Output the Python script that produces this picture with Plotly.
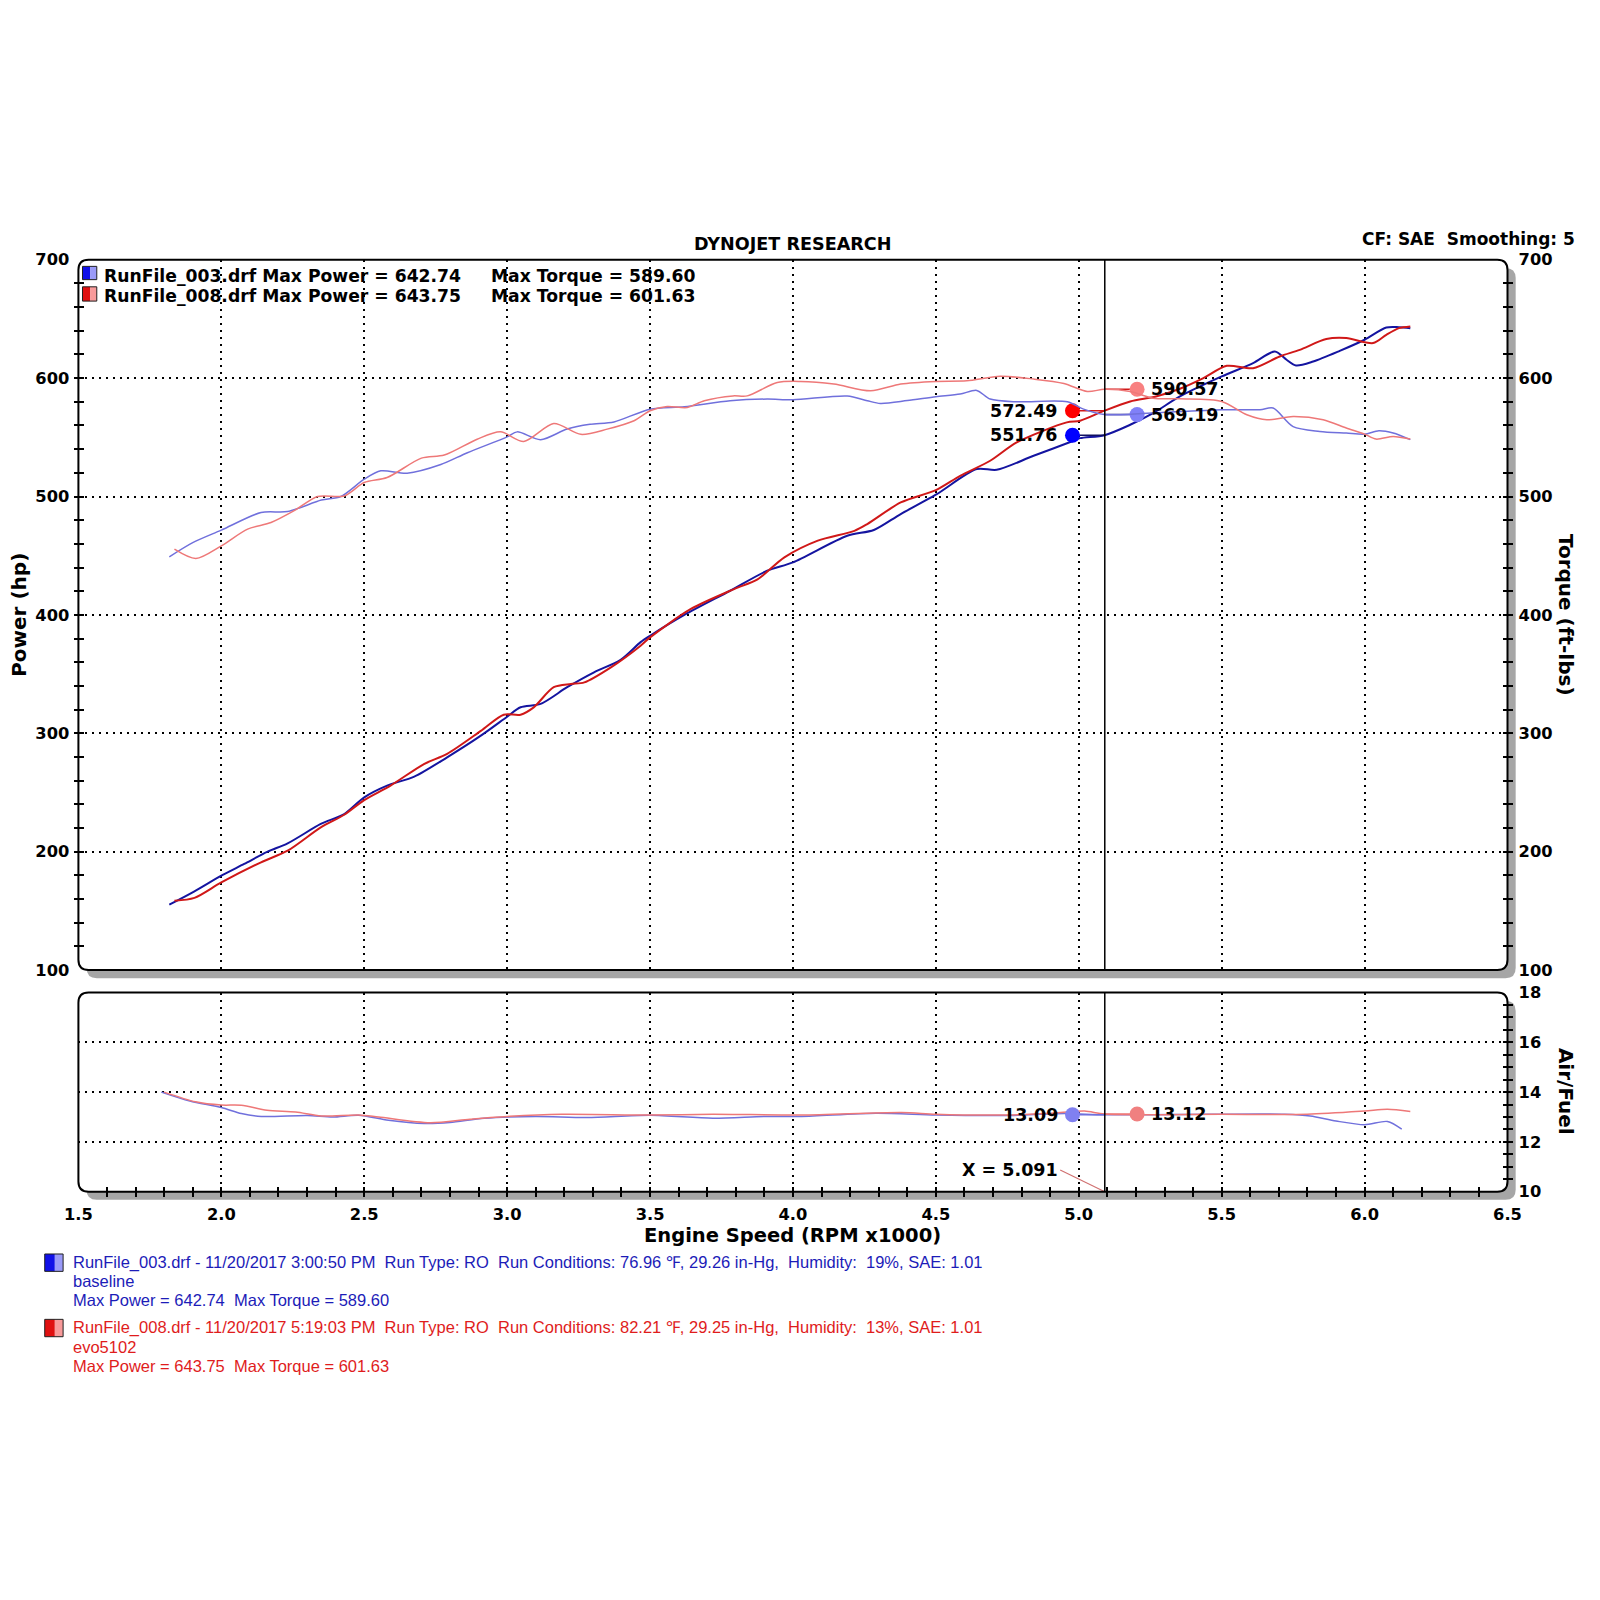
import plotly.graph_objects as go

# ---------------- data ----------------
rpm_blue_power = [1.818, 1.906, 2.0, 2.08, 2.162, 2.232, 2.348, 2.43, 2.5, 2.58, 2.675, 2.79, 2.908, 3.0, 3.047,
                  3.117, 3.21, 3.304, 3.397, 3.467, 3.5, 3.62, 3.78, 3.91, 4.0, 4.19, 4.283, 4.377, 4.5, 4.643,
                  4.713, 4.842, 4.982, 5.005, 5.09, 5.18, 5.26, 5.354, 5.5, 5.61, 5.686, 5.727, 5.76, 5.82,
                  5.913, 6.0, 6.076, 6.12, 6.16]
hp_blue = [155.2, 166.5, 179.7, 189.6, 200.0, 207.0, 223.4, 231.8, 245.9, 255.8, 263.4, 279.7, 298.0, 314.0, 322.0,
           324.8, 338.9, 351.5, 362.0, 377.0, 382.4, 400.0, 420.4, 437.3, 444.4, 466.9, 471.7, 485.2, 501.5, 523.2,
           522.6, 534.4, 547.1, 549.3, 551.8, 560.6, 570.4, 584.5, 601.4, 612.7, 622.5, 615.5, 610.7, 614.0,
           623.0, 632.4, 642.7, 643.0, 642.2]

rpm_red_power = [1.836, 1.906, 2.0, 2.139, 2.232, 2.348, 2.43, 2.5, 2.592, 2.709, 2.79, 2.908, 2.988, 3.047, 3.093,
                 3.163, 3.223, 3.27, 3.363, 3.467, 3.5, 3.643, 3.794, 3.876, 3.97, 4.087, 4.215, 4.26, 4.377, 4.5,
                 4.585, 4.69, 4.783, 4.958, 5.005, 5.09, 5.18, 5.27, 5.354, 5.436, 5.518, 5.61, 5.703, 5.773,
                 5.866, 5.936, 6.03, 6.076, 6.12, 6.16]
hp_red = [158.6, 161.0, 174.0, 191.0, 200.8, 220.5, 231.2, 243.6, 255.8, 274.0, 282.6, 302.0, 315.7, 315.7, 321.9,
          338.9, 341.6, 343.0, 355.7, 374.0, 381.0, 405.0, 421.8, 430.0, 448.6, 462.7, 471.0, 476.7, 495.0, 505.4,
          517.5, 530.2, 545.7, 562.6, 564.0, 572.5, 580.3, 584.5, 591.0, 600.0, 610.4, 608.4, 618.3, 623.9,
          633.0, 633.8, 629.6, 636.6, 642.2, 643.7]

rpm_blue_torque = [1.818, 1.9, 2.0, 2.139, 2.232, 2.35, 2.418, 2.5, 2.558, 2.65, 2.768, 2.861, 3.0, 3.035, 3.117,
                   3.21, 3.29, 3.374, 3.5, 3.62, 3.78, 3.91, 4.0, 4.19, 4.26, 4.306, 4.4, 4.5, 4.585, 4.643,
                   4.69, 4.783, 4.96, 5.017, 5.09, 5.24, 5.5, 5.634, 5.68, 5.75, 5.843, 5.936, 6.0, 6.05, 6.1, 6.16]
tq_blue = [449.0, 461.0, 471.6, 486.5, 487.3, 497.0, 500.0, 514.6, 521.7, 519.7, 527.0, 537.0, 550.4, 554.6, 548.0,
           557.0, 561.0, 563.0, 573.8, 575.8, 580.9, 582.3, 581.7, 584.8, 580.9, 578.6, 581.0, 584.2, 586.5, 589.6,
           582.3, 580.0, 580.0, 573.8, 569.2, 570.4, 573.3, 573.3, 574.7, 559.0, 555.0, 553.6, 552.7, 555.5, 553.6, 548.0]

rpm_red_torque = [1.836, 1.911, 2.0, 2.092, 2.174, 2.255, 2.337, 2.43, 2.5, 2.58, 2.7, 2.78, 2.895, 2.977, 3.058,
                  3.163, 3.258, 3.35, 3.444, 3.5, 3.56, 3.63, 3.69, 3.79, 3.84, 3.945, 4.027, 4.143, 4.272, 4.377,
                  4.5, 4.608, 4.725, 4.842, 4.948, 5.03, 5.09, 5.18, 5.26, 5.354, 5.5, 5.588, 5.658, 5.75, 5.855,
                  5.936, 6.0, 6.04, 6.1, 6.16]
tq_red = [455.5, 447.6, 458.3, 472.4, 478.0, 488.0, 500.0, 500.5, 511.8, 516.0, 532.4, 535.0, 548.4, 554.6, 546.4,
          561.6, 552.5, 556.9, 564.0, 572.4, 576.0, 575.2, 580.9, 585.0, 585.0, 596.3, 597.2, 595.0, 589.3, 595.0,
          597.2, 597.7, 601.6, 599.2, 595.5, 588.7, 590.6, 588.7, 583.0, 582.5, 580.3, 569.0, 564.8, 567.6, 564.8,
          557.8, 552.7, 548.5, 550.7, 548.5]

rpm_blue_afr = [1.79, 1.89, 2.0, 2.07, 2.14, 2.3, 2.39, 2.48, 2.585, 2.71, 2.8, 2.92, 3.1, 3.28, 3.5, 3.72, 3.9,
                4.03, 4.29, 4.5, 4.74, 4.95, 5.091, 5.45, 5.72, 5.81, 5.9, 6.0, 6.08, 6.13]
afr_blue = [14.0, 13.64, 13.38, 13.14, 13.02, 13.06, 13.0, 13.07, 12.87, 12.74, 12.78, 12.95, 13.02, 12.98, 13.07,
            12.95, 13.02, 13.02, 13.15, 13.08, 13.06, 13.14, 13.09, 13.11, 13.11, 13.04, 12.84, 12.69, 12.82, 12.51]

rpm_red_afr = [1.80, 1.91, 2.0, 2.07, 2.16, 2.26, 2.35, 2.48, 2.55, 2.73, 2.87, 3.01, 3.19, 3.5, 3.72, 4.03, 4.38,
               4.5, 4.74, 4.92, 5.02, 5.091, 5.5, 5.8, 6.0, 6.08, 6.16]
afr_red = [14.0, 13.61, 13.48, 13.47, 13.27, 13.2, 13.04, 13.08, 13.0, 12.77, 12.91, 13.03, 13.11, 13.08, 13.11,
           13.08, 13.18, 13.11, 13.08, 13.16, 13.24, 13.12, 13.11, 13.11, 13.24, 13.31, 13.22]

cursor_rpm = 5.091
cursor_blue_power = 551.76
cursor_red_power = 572.49
cursor_blue_torque = 569.19
cursor_red_torque = 590.57
cursor_blue_afr = 13.09
cursor_red_afr = 13.12

title_text = "DYNOJET RESEARCH"
cf_text = "CF: SAE\u00a0\u00a0Smoothing: 5"
legend_top = [("RunFile_003.drf Max Power = 642.74", "Max Torque = 589.60"),
              ("RunFile_008.drf Max Power = 643.75", "Max Torque = 601.63")]
legend_bottom_blue = ["RunFile_003.drf - 11/20/2017 3:00:50 PM\u00a0\u00a0Run Type: RO\u00a0\u00a0Run Conditions: 76.96 \u2109, 29.26 in-Hg,\u00a0\u00a0Humidity:\u00a0\u00a019%, SAE: 1.01",
                      "baseline",
                      "Max Power = 642.74\u00a0\u00a0Max Torque = 589.60"]
legend_bottom_red = ["RunFile_008.drf - 11/20/2017 5:19:03 PM\u00a0\u00a0Run Type: RO\u00a0\u00a0Run Conditions: 82.21 \u2109, 29.25 in-Hg,\u00a0\u00a0Humidity:\u00a0\u00a013%, SAE: 1.01",
                     "evo5102",
                     "Max Power = 643.75\u00a0\u00a0Max Torque = 601.63"]

# ---------------- styling ----------------
W = H = 1600
BLUE_P = "#1414A0"
RED_P = "#D01818"
BLUE_T = "#7070DC"
RED_T = "#EE7878"
BOLD = dict(family="DejaVu Sans", weight="bold", color="black")

# layout positions are given in screen coordinates (as measured on the picture);
# the helpers convert them to paper fractions, compensating the page scaling.
SX, OX = 0.9625, 13.9
SY, OY = 0.9675, 9.0

def X(s):
    return ((s - OX) / SX) / W

def Y(s):
    return 1 - ((s - OY) / SY) / H

L, R = 77.0, 1477.0
MT, MB = 254.5, 950.0
LT, LB = 972.0, 1167.0
DOT_DX = 0.113

def rrect(x0, y0, x1, y1, r):
    return (f"M {X(x0+r)},{Y(y0)} L {X(x1-r)},{Y(y0)} Q {X(x1)},{Y(y0)} {X(x1)},{Y(y0+r)} "
            f"L {X(x1)},{Y(y1-r)} Q {X(x1)},{Y(y1)} {X(x1-r)},{Y(y1)} "
            f"L {X(x0+r)},{Y(y1)} Q {X(x0)},{Y(y1)} {X(x0)},{Y(y1-r)} "
            f"L {X(x0)},{Y(y0+r)} Q {X(x0)},{Y(y0)} {X(x0+r)},{Y(y0)} Z")

fig = go.Figure()

def line(x, y, color, width, xa="x", ya="y"):
    fig.add_trace(go.Scatter(x=x, y=y, mode="lines", xaxis=xa, yaxis=ya, showlegend=False,
                             hoverinfo="skip",
                             line=dict(color=color, width=width, shape="spline", smoothing=0.8)))

# torque (right axis)
line(rpm_blue_torque, tq_blue, BLUE_T, 1.5, "x", "y2")
line(rpm_red_torque, tq_red, RED_T, 1.5, "x", "y2")
# power
line(rpm_blue_power, hp_blue, BLUE_P, 2, "x", "y")
line(rpm_red_power, hp_red, RED_P, 2, "x", "y")
# AFR
line(rpm_blue_afr, afr_blue, BLUE_T, 1.5, "x2", "y3")
line(rpm_red_afr, afr_red, RED_T, 1.5, "x2", "y3")

# cursor markers + leaders
markers = [
    (cursor_rpm - DOT_DX, cursor_red_power, "#FF0000", RED_P, "x", "y", "left"),
    (cursor_rpm - DOT_DX, cursor_blue_power, "#0000FF", "#101060", "x", "y", "left"),
    (cursor_rpm + DOT_DX, cursor_red_torque, "#F88080", RED_P, "x", "y", "right"),
    (cursor_rpm + DOT_DX, cursor_blue_torque, "#8080F8", "#101080", "x", "y", "right"),
    (cursor_rpm - DOT_DX, cursor_blue_afr, "#8080F0", BLUE_T, "x2", "y3", "left"),
    (cursor_rpm + DOT_DX, cursor_red_afr, "#F08080", RED_T, "x2", "y3", "right"),
]
annotations = []
for mx, my, mcol, lcol, xa, ya, side in markers:
    fig.add_trace(go.Scatter(x=[mx, cursor_rpm], y=[my, my], mode="lines", xaxis=xa, yaxis=ya,
                             showlegend=False, hoverinfo="skip", line=dict(color=lcol, width=1.5)))
    fig.add_trace(go.Scatter(x=[mx], y=[my], mode="markers", xaxis=xa, yaxis=ya, showlegend=False,
                             hoverinfo="skip", marker=dict(color=mcol, size=15, line=dict(width=0))))
    annotations.append(dict(x=mx, y=my, xref=xa, yref=ya, text=f"{my:.2f}", showarrow=False,
                            xanchor="right" if side == "left" else "left",
                            xshift=-12 if side == "left" else 12, yanchor="middle",
                            font=dict(size=17.5, **BOLD)))

# X = cursor label with leader
fig.add_trace(go.Scatter(x=[cursor_rpm - 0.156, cursor_rpm], y=[10.87, 10.0], mode="lines", xaxis="x2",
                         yaxis="y3", showlegend=False, hoverinfo="skip", line=dict(color="#D07070", width=1.2)))
annotations.append(dict(x=cursor_rpm - 0.158, y=10.87, xref="x2", yref="y3", text=f"X = {cursor_rpm:.3f}",
                        showarrow=False, xanchor="right", yanchor="middle", font=dict(size=17.5, **BOLD)))

# ---------------- shapes ----------------
shapes = []
for (t, b) in [(MT, MB), (LT, LB)]:
    shapes.append(dict(type="path", xref="paper", yref="paper", path=rrect(L + 8, t + 8, R + 8, b + 8, 10),
                       fillcolor="#A6A6A6", line=dict(width=0), layer="below"))
    shapes.append(dict(type="path", xref="paper", yref="paper", path=rrect(L, t, R, b, 10),
                       fillcolor="white", line=dict(width=0), layer="below"))
    shapes.append(dict(type="path", xref="paper", yref="paper", path=rrect(L, t, R, b, 10),
                       fillcolor="rgba(0,0,0,0)", line=dict(color="black", width=2), layer="above"))

shapes.append(dict(type="line", xref="x", yref="y domain", x0=cursor_rpm, x1=cursor_rpm, y0=0, y1=1,
                   line=dict(color="black", width=1.5)))
shapes.append(dict(type="line", xref="x2", yref="y3 domain", x0=cursor_rpm, x1=cursor_rpm, y0=0, y1=1,
                   line=dict(color="black", width=1.5)))

def icon(x0, y0, x1, y1, dark, light):
    xm = x0 + (x1 - x0) * 0.55
    shapes.append(dict(type="rect", xref="paper", yref="paper", x0=X(x0), x1=X(xm), y0=Y(y1), y1=Y(y0),
                       fillcolor=dark, line=dict(width=0)))
    shapes.append(dict(type="rect", xref="paper", yref="paper", x0=X(xm), x1=X(x1), y0=Y(y1), y1=Y(y0),
                       fillcolor=light, line=dict(width=0)))
    shapes.append(dict(type="rect", xref="paper", yref="paper", x0=X(x0), x1=X(x1), y0=Y(y1), y1=Y(y0),
                       fillcolor="rgba(0,0,0,0)", line=dict(color="#202020", width=1)))

icon(81, 261, 95, 274, "#1010E8", "#9A9AF8")
icon(81, 281, 95, 295, "#E01010", "#F89A9A")
icon(44, 1228, 62, 1245, "#1010E8", "#9A9AF8")
icon(44, 1292, 62, 1309, "#E01010", "#F89A9A")

# ---------------- text ----------------
def ptext(x, y, text, size, xanchor="left", angle=0, color="black", bold=True, family="DejaVu Sans"):
    f = dict(family=family, size=size, color=color)
    if bold:
        f["weight"] = "bold"
    annotations.append(dict(x=X(x), y=Y(y), xref="paper", yref="paper", text=text, showarrow=False,
                            xanchor=xanchor, yanchor="middle", textangle=angle, font=f))

ptext(777, 239, title_text, 17.6, "center")
ptext(1545, 234, cf_text, 17, "right")
ptext(18, 602, "Power (hp)", 20, "center", -90)
ptext(1535, 602, "Torque (ft-lbs)", 20, "center", 90)
ptext(1535, 1069, "Air/Fuel", 20, "center", 90)
ptext(777, 1210, "Engine Speed (RPM x1000)", 19.5, "center")
for i, (a, b) in enumerate(legend_top):
    yy = 270 + i * 20
    ptext(100, yy, a, 17.2)
    ptext(479, yy, b, 17.2)
for i, t in enumerate(legend_bottom_blue):
    ptext(70, 1236 + i * 18.7, t, 16.5, color="#1C1CB8", bold=False, family="Liberation Sans")
for i, t in enumerate(legend_bottom_red):
    ptext(70, 1300 + i * 19, t, 16.5, color="#E01C1C", bold=False, family="Liberation Sans")

# ---------------- axes ----------------
GRID = dict(showgrid=True, gridcolor="black", gridwidth=1.5, griddash="2px,5px", zeroline=False, showline=False)
TICKS = dict(ticks="inside", ticklen=10, tickwidth=1.5, tickcolor="black")
TF = dict(size=16.3, **BOLD)
MINOR = dict(ticks="inside", ticklen=10, tickwidth=1.5, tickcolor="black", showgrid=False)

fig.update_layout(
    width=W, height=H, margin=dict(l=0, r=0, t=0, b=0),
    paper_bgcolor="white", plot_bgcolor="rgba(0,0,0,0)", showlegend=False,
    xaxis=dict(domain=[X(L), X(R)], range=[1.5, 6.5], anchor="y", dtick=0.5, tick0=1.5,
               showticklabels=False, ticks="", **GRID),
    yaxis=dict(domain=[Y(MB), Y(MT)], range=[100, 700], anchor="free", position=X(L - 5), side="left",
               dtick=100, tick0=100, tickfont=TF, ticklabelstandoff=4, **TICKS, **GRID,
               minor=dict(dtick=20, **MINOR)),
    yaxis2=dict(range=[100, 700], overlaying="y", anchor="free", position=X(R + 5), side="right",
                dtick=100, tick0=100, tickfont=TF, ticklabelstandoff=5, **TICKS, showgrid=False,
                zeroline=False, showline=False, minor=dict(dtick=20, **MINOR)),
    xaxis2=dict(domain=[X(L), X(R)], range=[1.5, 6.5], anchor="free", position=Y(LB + 5), side="bottom",
                dtick=0.5, tick0=1.5, tickformat=".1f", tickfont=TF, ticklabelstandoff=6, **TICKS, **GRID,
                minor=dict(dtick=0.1, **MINOR)),
    yaxis3=dict(domain=[Y(LB), Y(LT)], range=[10, 18], anchor="free", position=X(R + 5), side="right",
                dtick=2, tick0=10, tickfont=TF, ticklabelstandoff=5, **TICKS, **GRID,
                minor=dict(dtick=0.5, **MINOR)),
    shapes=shapes, annotations=annotations,
)

fig.write_html("out.html")
